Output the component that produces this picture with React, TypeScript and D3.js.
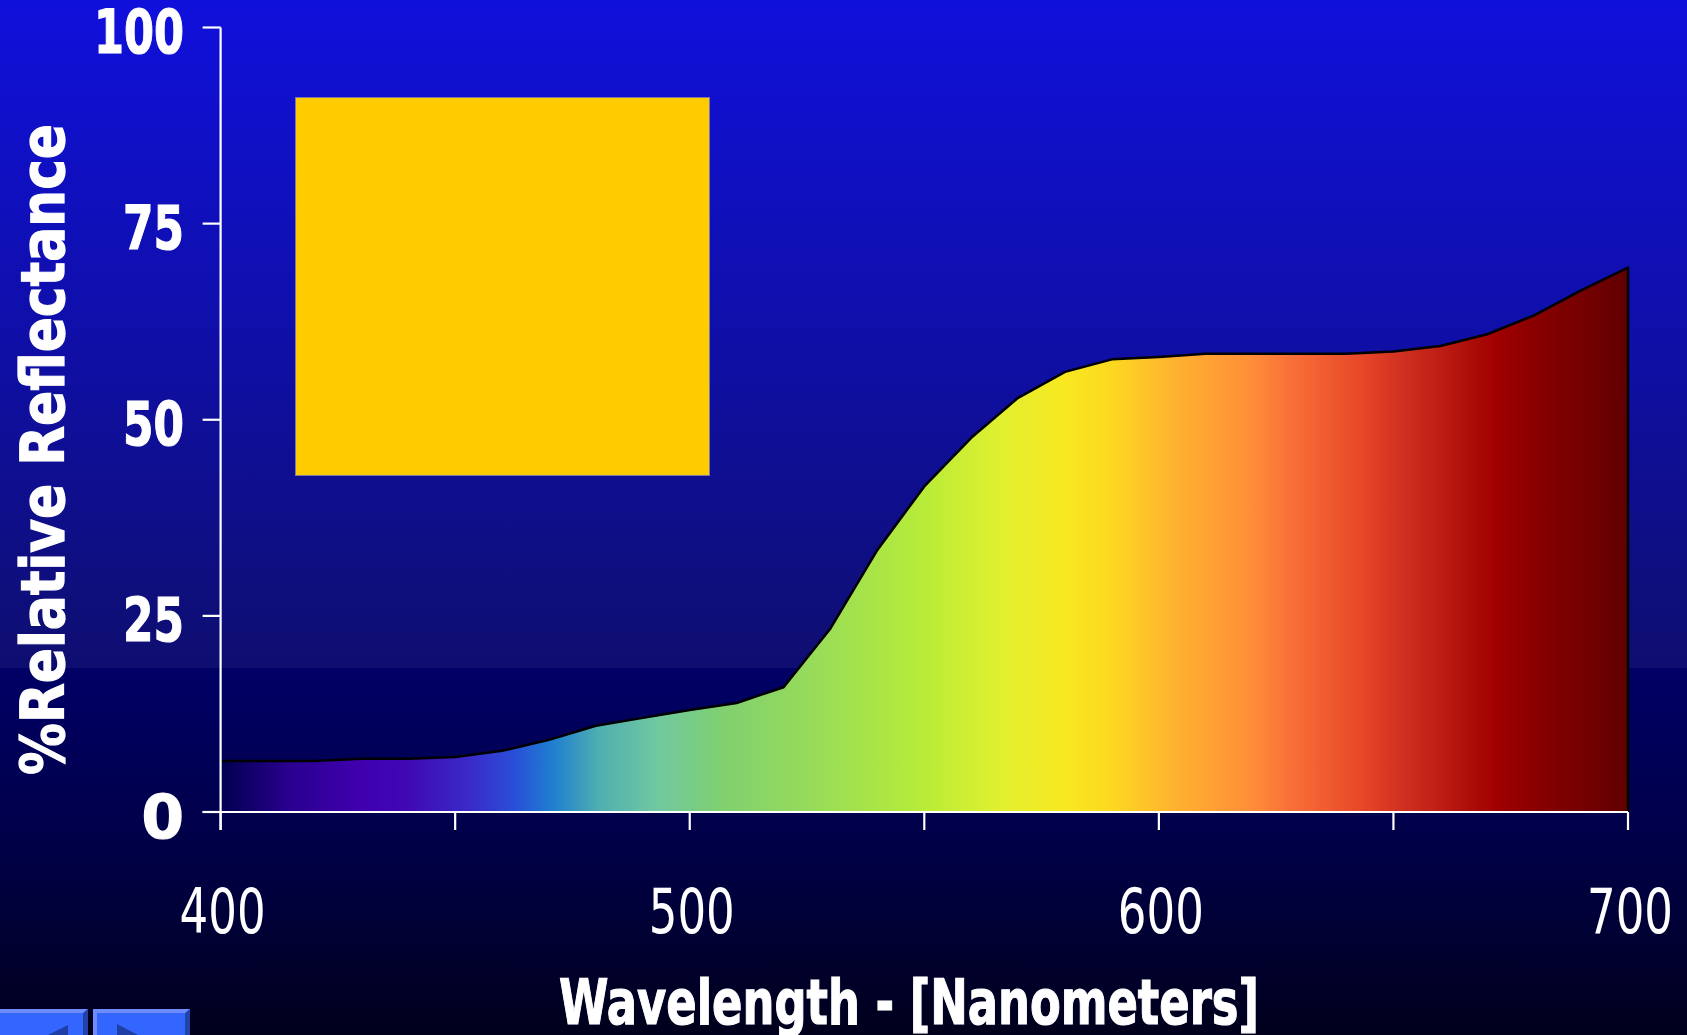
import React from "react";
import * as d3 from "d3";

// ---- data ----
const wavelengths = [400, 410, 420, 430, 440, 450, 460, 470, 480, 490, 500, 510, 520, 530, 540, 550, 560, 570, 580, 590, 600, 610, 620, 630, 640, 650, 660, 670, 680, 690, 700];
const reflectance = [6.5, 6.5, 6.5, 6.8, 6.8, 7.0, 7.8, 9.2, 11.0, 12.0, 13.0, 13.9, 15.9, 23.4, 33.4, 41.5, 47.7, 52.8, 56.1, 57.7, 58.0, 58.4, 58.4, 58.4, 58.4, 58.7, 59.4, 60.9, 63.3, 66.5, 69.4];
const yTicks = [0, 25, 50, 75, 100];
const xTicks = [400, 450, 500, 550, 600, 650, 700];
const xTickLabels = [400, 500, 600, 700];
const yTitle = "%Relative Reflectance";
const xTitle = "Wavelength - [Nanometers]";

// spectrum colour stops (wavelength -> colour)
const spectrumNm = [400, 415, 430, 440, 453, 463, 471, 481, 493, 507, 527, 550, 566, 580, 590, 604, 619, 628, 643, 652, 662, 672, 681, 700];
const spectrumColors = ["#000050", "#2a0090", "#4000b0", "#4008b4", "#3a2ac8", "#2850d8", "#2080d0", "#50b0b0", "#70c8a0", "#80d070", "#98dc58", "#b8ec38", "#e0f030", "#f8e820", "#fcd820", "#ffb030", "#ff9038", "#f87038", "#e84828", "#d03020", "#b81810", "#a00000", "#880000", "#600000"];

const FONT = "'DejaVu Sans', Verdana, sans-serif";

export default function App() {
  const W = 1687;
  const H = 1035;
  const x = d3.scaleLinear().domain([400, 700]).range([220.6, 1628]);
  const y = d3.scaleLinear().domain([0, 100]).range([812, 27.5]);

  const pts: [number, number][] = wavelengths.map((w, i) => [w, reflectance[i]]);
  const area = d3
    .area<[number, number]>()
    .x((d) => x(d[0]))
    .y0(y(0))
    .y1((d) => y(d[1]));
  const line = d3
    .line<[number, number]>()
    .x((d) => x(d[0]))
    .y((d) => y(d[1]));
  const outline = (line(pts) || "") + `L${x(700)},${y(0)}`;

  const x0 = x(400);
  const y0 = y(0);

  return (
    <svg
      width={W}
      height={H}
      viewBox={`0 0 ${W} ${H}`}
      style={{ position: "absolute", left: 0, top: 0, display: "block" }}
    >
      <defs>
        <linearGradient id="bgTop" x1="0" y1="0" x2="0" y2="1">
          <stop offset="0" stopColor="#1010dc" />
          <stop offset="0.5" stopColor="#0f0fa8" />
          <stop offset="1" stopColor="#0e0e70" />
        </linearGradient>
        <linearGradient id="bgBottom" x1="0" y1="0" x2="0" y2="1">
          <stop offset="0" stopColor="#000066" />
          <stop offset="0.5" stopColor="#000046" />
          <stop offset="1" stopColor="#00001c" />
        </linearGradient>
        <linearGradient
          id="spectrum"
          gradientUnits="userSpaceOnUse"
          x1={x(400)}
          y1={0}
          x2={x(700)}
          y2={0}
        >
          {spectrumNm.map((nm, i) => (
            <stop
              key={nm}
              offset={(x(nm) - x(400)) / (x(700) - x(400))}
              stopColor={spectrumColors[i]}
            />
          ))}
        </linearGradient>
      </defs>

      {/* background */}
      <rect x={0} y={0} width={W} height={668} fill="url(#bgTop)" />
      <rect x={0} y={668} width={W} height={H - 668} fill="url(#bgBottom)" />

      {/* yellow sample square */}
      <rect x={295.5} y={97.5} width={414} height={378} fill="#ffcc00" stroke="#7d78a8" strokeWidth={1} />

      {/* spectral area */}
      <path d={area(pts) || ""} fill="url(#spectrum)" />
      <path d={outline} fill="none" stroke="#000" strokeWidth={2.5} strokeLinejoin="round" />

      {/* axes */}
      <g stroke="#ffffff" strokeWidth={2.2}>
        <line x1={x0} y1={y(100)} x2={x0} y2={y0 + 18} />
        <line x1={x0 - 18} y1={y0} x2={x(700)} y2={y0} />
        {yTicks.map((t) => (
          <line key={"yt" + t} x1={x0 - 18} y1={y(t)} x2={x0} y2={y(t)} />
        ))}
        {xTicks.map((t) => (
          <line key={"xt" + t} x1={x(t)} y1={y0} x2={x(t)} y2={y0 + 18} />
        ))}
      </g>

      {/* y tick labels */}
      {yTicks.map((t) => {
        const s = String(t);
        const props: any = {};
        if (s.length > 1) {
          props.textLength = s.length * 29 + 3;
          props.lengthAdjust = "spacingAndGlyphs";
        }
        return (
          <text
            key={"yl" + t}
            x={184}
            y={y(t) + 25.5}
            textAnchor="end"
            fill="#ffffff"
            stroke="#ffffff"
            strokeWidth={1.2}
            fontFamily={FONT}
            fontWeight="bold"
            fontSize={61}
            {...props}
          >
            {s}
          </text>
        );
      })}

      {/* x tick labels */}
      {xTickLabels.map((t) => (
        <text
          key={"xl" + t}
          x={x(t) + 2}
          y={933}
          textAnchor="middle"
          fill="#ffffff"
          fontFamily={FONT}
          fontSize={62}
          textLength={86}
          lengthAdjust="spacingAndGlyphs"
        >
          {t}
        </text>
      ))}

      {/* axis titles */}
      <text
        transform="translate(64,449.5) rotate(-90)"
        textAnchor="middle"
        fill="#ffffff"
        stroke="#ffffff"
        strokeWidth={1.2}
        fontFamily={FONT}
        fontWeight="bold"
        fontSize={60}
        textLength={651}
        lengthAdjust="spacingAndGlyphs"
      >
        {yTitle}
      </text>
      <text
        x={909}
        y={1024}
        textAnchor="middle"
        fill="#ffffff"
        stroke="#ffffff"
        strokeWidth={1.2}
        fontFamily={FONT}
        fontWeight="bold"
        fontSize={62}
        textLength={700}
        lengthAdjust="spacingAndGlyphs"
      >
        {xTitle}
      </text>

      {/* navigation buttons */}
      <g>
        <rect x={0} y={1009} width={88} height={30} fill="#3366ff" />
        <polygon points="0,1009 88,1009 84,1013 0,1013" fill="#6e8cff" />
        <polygon points="88,1009 88,1035 83,1035 83,1013" fill="#2244aa" />
        <polygon points="68,1025 68,1035 48,1035" fill="#1f3ea6" />
        <rect x={93} y={1009} width={97} height={30} fill="#3366ff" />
        <polygon points="93,1009 190,1009 186,1013 97,1013 97,1035 93,1035" fill="#6e8cff" />
        <polygon points="190,1009 190,1035 185,1035 185,1013" fill="#2244aa" />
        <polygon points="117,1024 117,1035 138,1035" fill="#1f3ea6" />
      </g>
    </svg>
  );
}
